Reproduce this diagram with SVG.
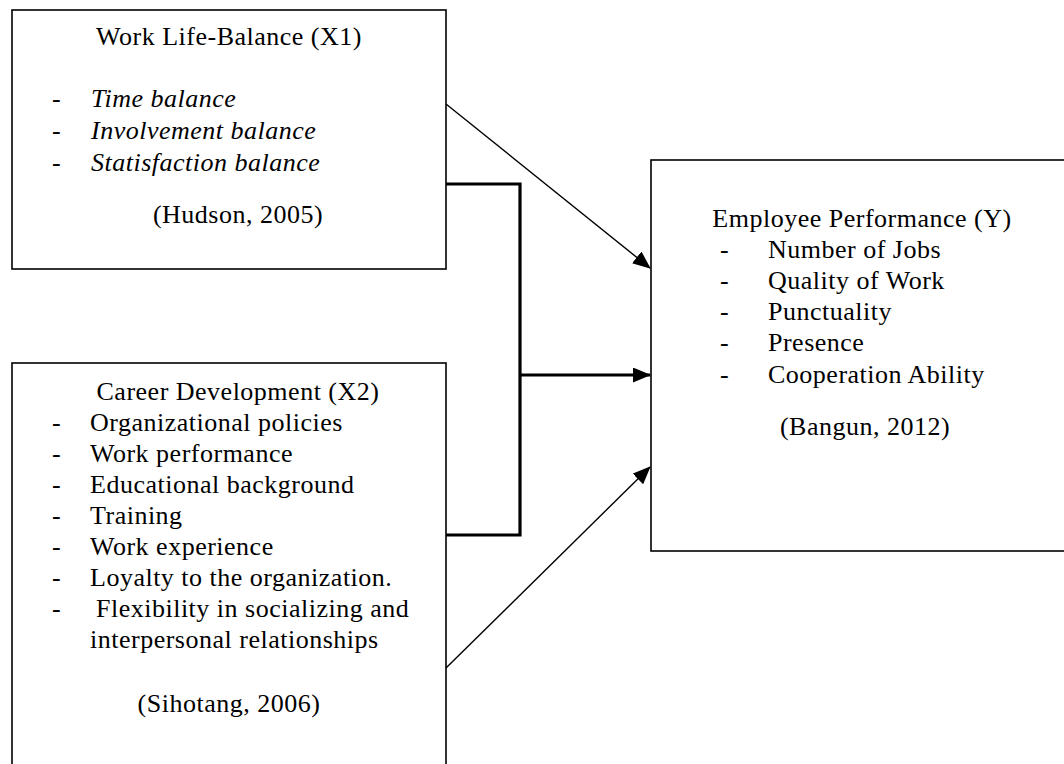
<svg xmlns="http://www.w3.org/2000/svg" width="1064" height="764" viewBox="0 0 1064 764">
<style>
.box{fill:#fff;stroke:#000;stroke-width:1.6}
text{font-family:"Liberation Serif","DejaVu Serif",serif;font-size:26px;fill:#000;letter-spacing:0.5px}
.c{text-anchor:middle}
.i{font-style:italic}
.thin{fill:none;stroke:#000;stroke-width:1.4}
.thick{fill:none;stroke:#000;stroke-width:3.2}
</style>
<defs>
<marker id="ah" markerUnits="userSpaceOnUse" markerWidth="18" markerHeight="15" refX="17" refY="7.5" orient="auto">
<path d="M0,0 L18,7.5 L0,15 Z" fill="#000"/>
</marker>
</defs>
<rect width="1064" height="764" fill="#fff"/>
<g id="x1">
<rect class="box" x="12" y="10" width="434" height="259"/>
<text class="c" x="229" y="45">Work Life-Balance (X1)</text>
<text x="52" y="107">-</text><text class="i" x="91" y="107">Time balance</text>
<text x="52" y="139">-</text><text class="i" x="91" y="139">Involvement balance</text>
<text x="52" y="171">-</text><text class="i" x="91" y="171">Statisfaction balance</text>
<text class="c" x="238" y="223">(Hudson, 2005)</text>
</g>
<g id="x2">
<rect class="box" x="12" y="363" width="434" height="440"/>
<text class="c" x="238" y="400">Career Development (X2)</text>
<text x="52" y="431">-</text><text x="90" y="431">Organizational policies</text>
<text x="52" y="462">-</text><text x="90" y="462">Work performance</text>
<text x="52" y="493">-</text><text x="90" y="493">Educational background</text>
<text x="52" y="524">-</text><text x="90" y="524">Training</text>
<text x="52" y="555">-</text><text x="90" y="555">Work experience</text>
<text x="52" y="586">-</text><text x="90" y="586">Loyalty to the organization.</text>
<text x="52" y="617">-</text><text x="96" y="617">Flexibility in socializing and</text>
<text x="90" y="648">interpersonal relationships</text>
<text class="c" x="229" y="712">(Sihotang, 2006)</text>
</g>
<g id="y">
<rect class="box" x="651" y="160" width="460" height="391"/>
<text class="c" x="862" y="227">Employee Performance (Y)</text>
<text x="720" y="258">-</text><text x="768" y="258">Number of Jobs</text>
<text x="720" y="289">-</text><text x="768" y="289">Quality of Work</text>
<text x="720" y="320">-</text><text x="768" y="320">Punctuality</text>
<text x="720" y="351">-</text><text x="768" y="351">Presence</text>
<text x="720" y="383">-</text><text x="768" y="383">Cooperation Ability</text>
<text class="c" x="865" y="435">(Bangun, 2012)</text>
</g>
<g id="connectors">
<line class="thin" x1="446" y1="104" x2="650" y2="268" marker-end="url(#ah)"/>
<polyline class="thick" points="446,184 520,184 520,535 446,535"/>
<line class="thick" x1="520" y1="375" x2="650" y2="375" marker-end="url(#ah)"/>
<line class="thin" x1="446" y1="668" x2="650" y2="467" marker-end="url(#ah)"/>
</g>
</svg>
